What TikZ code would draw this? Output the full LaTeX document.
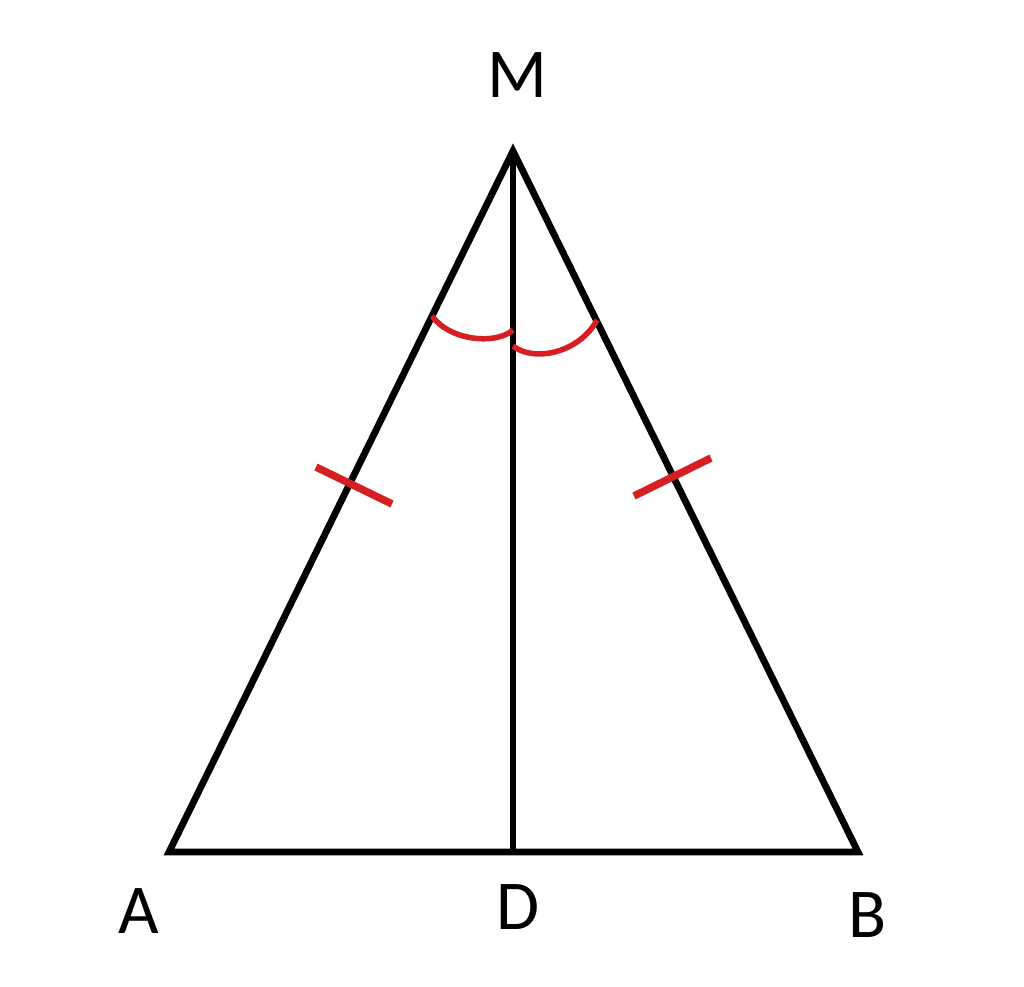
\documentclass[tikz,border=0pt]{standalone}
\usepackage{fontspec}
\setmainfont{Carlito}
\tikzset{
  side/.style={draw=black, line width=6.8pt, miter limit=10, line join=miter},
  tick/.style={draw=tickred, line width=7.5pt},
  angarc/.style={draw=tickred, line width=5.5pt},
  lbl/.style={font=\fontsize{70}{70}\selectfont, anchor=base, inner sep=0pt}
}
\definecolor{tickred}{RGB}{215,30,35}
\begin{document}
\begin{tikzpicture}[x=1pt,y=-1pt]
\useasboundingbox (0,0) rectangle (1024,986);
\fill[white] (0,0) rectangle (1024,986);
% vertices
\coordinate (M) at (513,151);
\coordinate (A) at (169,852);
\coordinate (B) at (858,852);
\coordinate (D) at (513,852);
% tick mark ends
\coordinate (t1a) at (316,467);
\coordinate (t1b) at (392,504);
\coordinate (t2a) at (634,496);
\coordinate (t2b) at (711,458);
% angle arc ends
\coordinate (a1s) at (432,316);
\coordinate (a1e) at (513,330);
\coordinate (a2s) at (513,346);
\coordinate (a2e) at (597,320);
% sides
\draw[side] (A) -- (M) -- (B) -- cycle;
\draw[side, line cap=butt] (M) -- (D);
% equal-length ticks
\draw[tick] (t1a) -- (t1b);
\draw[tick] (t2a) -- (t2b);
% equal angles
\draw[angarc] (a1s) .. controls (450,341) and (496,345) .. (a1e);
\draw[angarc] (a2s) .. controls (535,363) and (580,352) .. (a2e);
% labels
\node[lbl] (lM) at (517,97) {M};
\node[lbl] (lA) at (139,933) {A};
\node[lbl] (lD) at (518,929) {D};
\node[lbl] (lB) at (868,937) {B};
\end{tikzpicture}
\end{document}
